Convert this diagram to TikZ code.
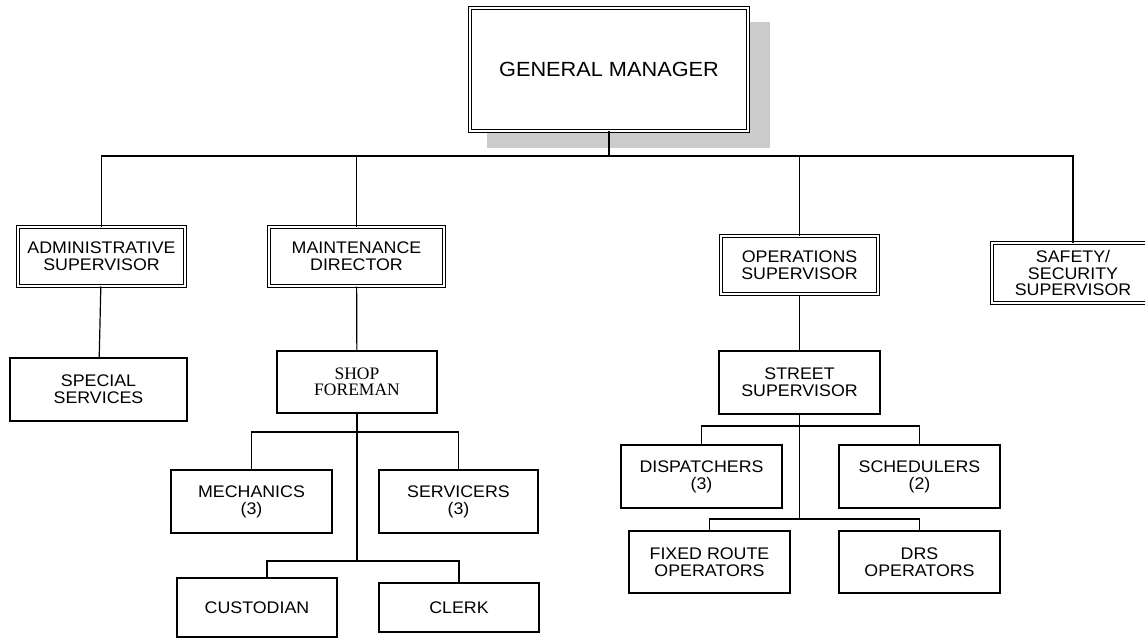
\documentclass[tikz,border=0pt]{standalone}
\usepackage{fontspec}
\setmainfont{Liberation Sans}[FakeStretch=1.06]
\newfontfamily\shopfont{Liberation Serif}
\usepackage{tikz}
\usetikzlibrary{shapes}
\usetikzlibrary{positioning}
\tikzstyle{post}=[
        rectangle,
        draw,
        line width=1.2pt,
        fill=white,
        align=center,
        inner sep=0pt,
        minimum width=161pt,
        minimum height=63pt,
        font=\fontsize{16.8}{16.8}\selectfont
]
\tikzstyle{chief}=[post,double,double distance=2.2pt,line width=1pt]
\tikzstyle{link}=[line width=1.2pt]
\begin{document}
\begin{tikzpicture}[x=1pt,y=-1pt]
\useasboundingbox (0,0) rectangle (1145,639);
\fill[gray!40] (487,22) rectangle (770,148);
\node[chief,minimum width=278pt,minimum height=123pt,font=\fontsize{20.5}{22}\selectfont] (gm) at (609,69.5) {GENERAL MANAGER};
\node[chief,minimum width=167pt,minimum height=59pt] (admin) at (101.5,256.5) {ADMINISTRATIVE\\SUPERVISOR};
\node[chief,minimum width=175pt,minimum height=59pt] (maint) at (356.5,256.5) {MAINTENANCE\\DIRECTOR};
\node[chief,minimum width=157pt,minimum height=58pt] (ops) at (799.5,265) {OPERATIONS\\SUPERVISOR};
\node[chief,minimum width=162pt,minimum height=60pt] (safety) at (1073,273) {SAFETY/\\SECURITY\\SUPERVISOR};
\node[post,minimum width=177pt] (special) at (98.5,389.5) {SPECIAL\\SERVICES};
\node[post,minimum width=160pt,minimum height=62pt,font=\shopfont\fontsize{17.5}{16.5}\selectfont] (shop) at (357,382) {SHOP\\FOREMAN};
\node[post] (mech) at (251.5,501.5) {MECHANICS\\(3)};
\node[post,minimum width=159pt] (serv) at (458.5,501.5) {SERVICERS\\(3)};
\node[post,minimum width=160pt,minimum height=59pt] (cust) at (257,607.5) {CUSTODIAN};
\node[post,minimum width=160pt,minimum height=49pt] (clerk) at (459,607.5) {CLERK};
\node[post] (street) at (799.5,382.5) {STREET\\SUPERVISOR};
\node[post] (disp) at (701.5,476.5) {DISPATCHERS\\(3)};
\node[post] (sched) at (919.5,476.5) {SCHEDULERS\\(2)};
\node[post,minimum height=62pt] (fixed) at (709.5,562) {FIXED ROUTE\\OPERATORS};
\node[post,minimum height=62pt] (drs) at (919.5,562) {DRS\\OPERATORS};
% bus points
\coordinate (gmbus) at (609,156);
\coordinate (shopbus) at (357,432);
\coordinate (shopbus2) at (357,561);
\coordinate (streetbus) at (799.5,426);
\coordinate (streetbus2) at (799.5,519);
% lines
\draw[link,line width=1.8pt] (gm) -- (gmbus);
\draw[link] (gmbus) -| (admin);
\draw[link] (gmbus) -| (maint);
\draw[link] (gmbus) -| (ops);
\draw[link] (gmbus) -| (safety);
\draw[link] (admin) -- (special);
\draw[link] (maint) -- (shop);
\draw[link] (ops) -- (street);
\draw[link] (shop) -- (shopbus2);
\draw[link] (shopbus) -| (mech);
\draw[link] (shopbus) -| (serv);
\draw[link] (shopbus2) -| ([xshift=10pt]cust.north);
\draw[link] (shopbus2) -| (clerk);
\draw[link] (street) -- (streetbus2);
\draw[link] (streetbus) -| (disp);
\draw[link] (streetbus) -| (sched);
\draw[link] (streetbus2) -| (fixed);
\draw[link] (streetbus2) -| (drs);
\end{tikzpicture}
\end{document}
